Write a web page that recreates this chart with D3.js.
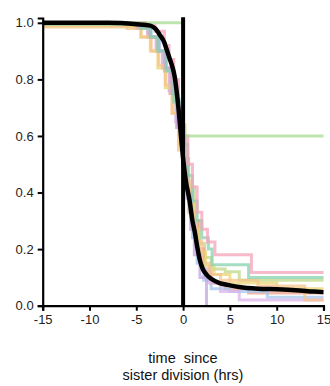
<!DOCTYPE html>
<html><head><meta charset="utf-8">
<script src="https://cdn.jsdelivr.net/npm/d3@7"></script>
<style>body{margin:0;background:#fff}svg{display:block}text{font-family:"Liberation Sans",Arial,sans-serif}</style>
</head><body><svg id="c" width="330" height="386"></svg>
<script>
const xTicks = [-15,-10,-5,0,5,10,15];
const yTicks = [0,0.2,0.4,0.6,0.8,1.0];
const xTitle = ["time  since","sister division (hrs)"];

const colorList = ["#f4a3b8","#a9dc94","#86d2ad","#bcd886","#f5c38c","#f0a08e","#a3c6ee","#c2a4e2","#dbb3ea","#e9d474"];

const pinkX = [-15,-4,-3,-2,-1.5,-1,-0.5,0,0.5,1,1.5,2,2.6,3.4,7.3,15];
const pinkY = [1,0.99,0.97,0.92,0.87,0.8,0.7,0.6,0.5,0.42,0.33,0.27,0.225,0.18,0.117,0.117];
const greenX = [-15,0,15];
const greenY = [1,0.6,0.6];
const tealX = [-15,-4.5,-3.5,-2.7,-1.8,-1,0,0.5,1,1.5,2,2.7,3.1,7,15];
const tealY = [0.995,0.98,0.95,0.9,0.83,0.72,0.57,0.46,0.37,0.3,0.24,0.2,0.145,0.1,0.1];
const oliveX = [-15,-5,-3.8,-2.8,-2.2,-1.4,-0.6,0.2,0.6,1.2,1.7,2.3,3,4.5,6,15];
const oliveY = [0.99,0.98,0.95,0.9,0.84,0.76,0.64,0.52,0.42,0.3,0.22,0.17,0.13,0.12,0.09,0.09];
const orangeX = [-15,-6,-4.5,-3.4,-2.6,-1.9,-1.2,-0.5,0.2,0.7,1.3,2,2.8,4,8,13,15];
const orangeY = [0.985,0.98,0.95,0.9,0.85,0.78,0.68,0.55,0.44,0.33,0.23,0.15,0.11,0.09,0.07,0.02,0.02];
const salmonX = [-15,-5,-3.7,-2.8,-2,-1.4,-0.7,0,0.5,1,1.6,2.2,3,4.5,7,15];
const salmonY = [0.995,0.98,0.95,0.9,0.83,0.75,0.63,0.52,0.4,0.3,0.2,0.12,0.08,0.06,0.045,0.045];
const blueX = [-15,-4.8,-3.4,-2.5,-1.8,-1.1,-0.4,0.2,0.6,1,1.5,2.2,3,5,9,15];
const blueY = [1,0.99,0.95,0.9,0.83,0.73,0.6,0.45,0.33,0.24,0.15,0.09,0.06,0.05,0.03,0.03];
const purpleX = [-15,-4.8,-3.5,-2.6,-1.9,-1.2,-0.6,0,0.4,0.8,1.2,1.8,2.5];
const purpleY = [1,0.985,0.95,0.9,0.84,0.75,0.63,0.5,0.38,0.27,0.18,0.1,0];
const lavX = [-15,-5,-3.8,-2.9,-2.2,-1.5,-0.8,-0.1,0.4,0.9,1.4,2,2.8,4,6,15];
const lavY = [0.995,0.98,0.95,0.9,0.84,0.76,0.65,0.53,0.41,0.3,0.2,0.13,0.08,0.05,0.02,0.02];
const yellowX = [-15,-6,-4.5,-3.5,-2.7,-1.9,-1.1,-0.4,0.1,0.6,1.1,1.7,2.4,3.3,5,10,15];
const yellowY = [0.99,0.985,0.95,0.9,0.84,0.77,0.68,0.57,0.46,0.36,0.27,0.19,0.14,0.11,0.08,0.06,0.06];

const meanX = [-15,-8,-5,-3.5,-3,-2.5,-2,-1.8,-1.5,-1.2,-0.9,-0.5,-0.2,0,0.3,0.7,1.0,1.25,1.5,1.8,2.1,2.5,3,3.9,5,6,8,10,12,14,15];
const meanY = [1.0,1.0,0.995,0.99,0.98,0.958,0.93,0.91,0.88,0.85,0.81,0.70,0.59,0.52,0.44,0.37,0.30,0.26,0.21,0.16,0.13,0.11,0.095,0.08,0.072,0.066,0.06,0.058,0.055,0.05,0.048];

const seriesX = [pinkX,greenX,tealX,oliveX,orangeX,salmonX,blueX,purpleX,lavX,yellowX];
const seriesY = [pinkY,greenY,tealY,oliveY,orangeY,salmonY,blueY,purpleY,lavY,yellowY];

const svg = d3.select("#c");
const x = d3.scaleLinear().domain([-15,15]).range([42.7,323.5]);
const y = d3.scaleLinear().domain([0,1.017]).range([305.7,18]);

const step = d3.line().x(d=>x(d[0])).y(d=>y(d[1])).curve(d3.curveStepAfter);
const smooth = d3.line().x(d=>x(d[0])).y(d=>y(d[1])).curve(d3.curveMonotoneX);

const order = [3,5,6,8,9,4,7,2,0,1];
order.forEach(i=>{
  const pts = seriesX[i].map((v,j)=>[v,seriesY[i][j]]);
  svg.append("path").attr("d",step(pts)).attr("fill","none")
    .attr("stroke",colorList[i]).attr("stroke-width",3).attr("stroke-opacity",0.75);
});

svg.append("path").attr("d",smooth(meanX.map((v,j)=>[v,meanY[j]])))
  .attr("fill","none").attr("stroke","#000").attr("stroke-width",4.5).attr("stroke-linejoin","round");

svg.append("line").attr("x1",x(0)).attr("x2",x(0)).attr("y1",y(1.02)).attr("y2",y(0))
  .attr("stroke","#000").attr("stroke-width",4);

const xa = svg.append("g").attr("transform",`translate(0,${y(0)})`)
  .call(d3.axisBottom(x).tickValues(xTicks).tickSize(5).tickPadding(4).tickFormat(d3.format("d")));
const ya = svg.append("g").attr("transform",`translate(${x(-15)},0)`)
  .call(d3.axisLeft(y).tickValues(yTicks).tickSize(5).tickPadding(4).tickFormat(d3.format(".1f")));
[xa,ya].forEach(a=>{
  a.selectAll("path").attr("stroke","#000").attr("stroke-width",2.2);
  a.selectAll("line").attr("stroke","#000").attr("stroke-width",2);
  a.selectAll("text").attr("font-size",13).attr("fill","#222").attr("font-family","Liberation Sans, Arial, sans-serif");
});
xa.selectAll("text").text(d=>d<0?"-"+Math.abs(d):d);

svg.append("text").attr("x",183).attr("y",363).attr("text-anchor","middle")
  .attr("font-size",14.5).attr("fill","#111").style("white-space","pre").text(xTitle[0]);
svg.append("text").attr("x",183).attr("y",380).attr("text-anchor","middle")
  .attr("font-size",14.5).attr("fill","#111").text(xTitle[1]);
</script></body></html>
